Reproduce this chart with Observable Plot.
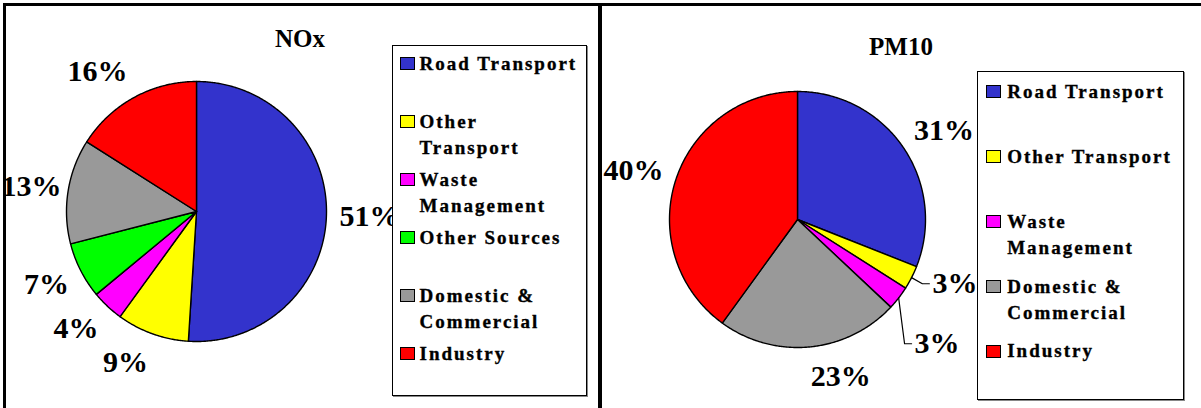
<!DOCTYPE html>
<html><head><meta charset="utf-8">
<script src="https://cdn.jsdelivr.net/npm/d3@7"></script>
<script src="https://cdn.jsdelivr.net/npm/@observablehq/plot@0.6"></script>
<style>
body{margin:0;background:#fff;}
#root{position:relative;width:1201px;height:408px;overflow:hidden;font-family:"Liberation Serif","Times New Roman",serif;color:#000;}
.panel{position:absolute;top:0;height:408px;}
.title{position:absolute;font-weight:bold;font-size:25px;transform:translate(-50%,-50%);white-space:nowrap;line-height:1;}
.legend{position:absolute;border:1.5px solid #000;box-shadow:1px 1px 0 #888;background:#fff;box-sizing:border-box;}
.sw{position:absolute;width:15px;height:13px;border:1.3px solid #000;box-sizing:border-box;}
.lt{position:absolute;font-family:"Liberation Serif","Times New Roman",serif;font-weight:bold;font-size:19px;letter-spacing:2px;line-height:26px;-webkit-text-stroke:0.35px #000;}
.frame{position:absolute;background:#000;}
</style></head><body><div id="root"></div><script>
// ---- data ----
const noxCategories = ["Road Transport","Other Transport","Waste Management","Other Sources","Domestic & Commercial","Industry"];
const noxValues = [51, 9, 4, 7, 13, 16];
const pm10Categories = ["Road Transport","Other Transport","Waste Management","Domestic & Commercial","Industry"];
const pm10Values = [31, 3, 3, 23, 40];
const titles = ["NOx", "PM10"];
const categoryColors = {
  "Road Transport": "#3333CC",
  "Other Transport": "#FFFF00",
  "Waste Management": "#FF00FF",
  "Other Sources": "#00FF00",
  "Domestic & Commercial": "#999999",
  "Industry": "#FF0000"
};

const root = document.getElementById("root");
const FONT = "Liberation Serif, Times New Roman, serif";
const LABEL_SIZE = 30;
const ctx = document.createElement("canvas").getContext("2d");
ctx.font = `bold ${LABEL_SIZE}px "Liberation Serif"`;
const textWidth = s => ctx.measureText(s).width;

function pieChart(cats, values, opt) {
  const {cx, cy, r, width, left} = opt;
  const arcs = d3.pie().sort(null).value(d => d)(values);
  const marks = [];
  const labels = [], leaderLabels = [];
  const boxH = LABEL_SIZE * 1.13;
  arcs.forEach((a, i) => {
    const n = Math.max(4, Math.ceil((a.endAngle - a.startAngle) / (Math.PI / 360)));
    const pts = [{x: 0, y: 0}];
    for (let k = 0; k <= n; k++) {
      const t = a.startAngle + (a.endAngle - a.startAngle) * k / n;
      pts.push({x: Math.sin(t), y: Math.cos(t)});
    }
    pts.push({x: 0, y: 0});
    marks.push(Plot.line(pts, {x: "x", y: "y", fill: categoryColors[cats[i]], stroke: "#000", strokeWidth: 1.4, strokeLinejoin: "round", curve: "linear"}));
    const m = (a.startAngle + a.endAngle) / 2;
    const txt = values[i] + "%";
    const w = textWidth(txt);
    if (values[i] < 4) {
      leaderLabels.push({m, text: txt, w, x: Math.sin(m) * 1.38, y: Math.cos(m) * 1.38});
    } else {
      // anchor just outside the rim; the label box sits on the outer side of it
      const px = cx + Math.sin(m) * r * 1.1, py = cy - Math.cos(m) * r * 1.1;
      let lx = px + Math.sign(Math.sin(m)) * w / 2;
      const ly = py - Math.cos(m) * boxH / 2;
      lx = Math.max(lx, w / 2 + 1);              // keep inside the panel
      labels.push({text: txt, x: (lx - cx) / r, y: (cy - ly) / r});
    }
  });
  // spread leader labels vertically so they do not collide (60px apart)
  if (leaderLabels.length > 1) {
    const gap = 60 / r;
    const mean = d3.mean(leaderLabels, d => d.y);
    const sorted = leaderLabels.slice().sort((p, q) => q.y - p.y);
    sorted.forEach((d, k) => { d.y = mean + gap * ((sorted.length - 1) / 2 - k); });
  }
  const leaderPts = [];
  leaderLabels.forEach((d, k) => {
    const lft = d.x - (d.w / 2) / r;
    d.left = lft;
    leaderPts.push({z: k, x: Math.sin(d.m), y: Math.cos(d.m)});
    leaderPts.push({z: k, x: lft - 10 / r, y: d.y});
    leaderPts.push({z: k, x: lft - 3 / r, y: d.y});
  });
  marks.push(Plot.line(leaderPts, {x: "x", y: "y", z: "z", stroke: "#000", strokeWidth: 1.2}));
  marks.push(Plot.text(labels, {x: "x", y: "y", text: "text", fontSize: LABEL_SIZE, fontWeight: "bold", fontFamily: FONT, fill: "#000"}));
  marks.push(Plot.text(leaderLabels, {x: "left", y: "y", text: "text", textAnchor: "start", fontSize: LABEL_SIZE, fontWeight: "bold", fontFamily: FONT, fill: "#000"}));
  const svg = Plot.plot({
    width, height: 408, margin: 0,
    x: {domain: [-1, 1], range: [cx - r, cx + r], axis: null},
    y: {domain: [-1, 1], range: [cy + r, cy - r], axis: null},
    style: {background: "transparent", overflow: "visible"},
    marks
  });
  const panel = document.createElement("div");
  panel.className = "panel";
  panel.style.left = left + "px";
  panel.style.width = width + "px";
  panel.appendChild(svg);
  root.appendChild(panel);
}

function title(text, x, y) {
  const t = document.createElement("div");
  t.className = "title"; t.textContent = text;
  t.style.left = x + "px"; t.style.top = y + "px";
  root.appendChild(t);
}

function legend(cats, o) {
  const box = document.createElement("div");
  box.className = "legend";
  Object.assign(box.style, {left: o.x + "px", top: o.y + "px", width: o.w + "px", height: o.h + "px"});
  cats.forEach((c, i) => {
    const top = o.first + i * o.step;
    const sw = document.createElement("div");
    sw.className = "sw";
    Object.assign(sw.style, {left: o.swx + "px", top: (top + 6.5) + "px", background: categoryColors[c]});
    const tx = document.createElement("div");
    tx.className = "lt"; tx.textContent = c;
    Object.assign(tx.style, {left: o.tx + "px", top: top + "px", width: o.tw + "px"});
    box.appendChild(sw); box.appendChild(tx);
  });
  root.appendChild(box);
}

pieChart(noxCategories, noxValues, {cx: 196, cy: 211, r: 130, width: 600, left: 0});
pieChart(pm10Categories, pm10Values, {cx: 197, cy: 219, r: 128, width: 601, left: 600});
title(titles[0], 300, 38);
title(titles[1], 901, 46);
legend(noxCategories, {x: 392, y: 45, w: 195, h: 351, first: 4.5, step: 58, swx: 6.5, tx: 26.5, tw: 164});
legend(pm10Categories, {x: 977, y: 71, w: 207, h: 329, first: 6.8, step: 64.9, swx: 8.2, tx: 29.2, tw: 174});

// frame
[[3, 3, 1198, 3], [3, 3, 3, 405], [598, 3, 4, 405]].forEach(([l, t, w, h]) => {
  const f = document.createElement("div");
  f.className = "frame";
  Object.assign(f.style, {left: l + "px", top: t + "px", width: w + "px", height: h + "px"});
  root.appendChild(f);
});
</script></body></html>
